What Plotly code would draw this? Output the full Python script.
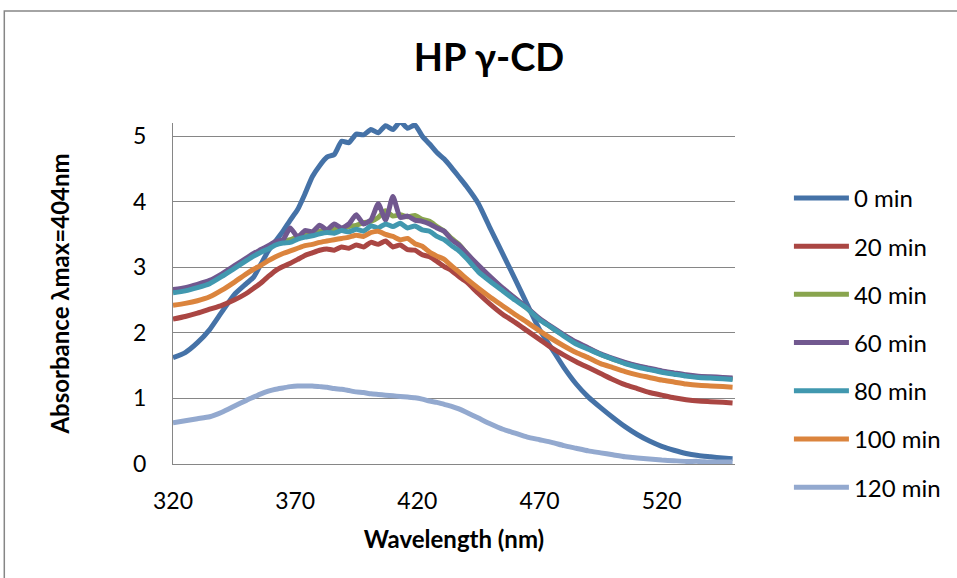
import plotly.graph_objects as go

wavelength = [320, 325, 330, 335, 340, 345, 350, 353, 356, 359, 362, 365, 368, 371, 374, 377, 380,
              383, 386, 389, 392, 395, 398, 401, 404, 407, 410, 413, 416, 419, 422, 425, 428, 431,
              434, 437, 440, 445, 450, 455, 460, 465, 470, 475, 480, 485, 490, 495, 500, 505, 510,
              515, 520, 525, 530, 535, 540, 545, 549]

min0 = [1.62, 1.70, 1.85, 2.05, 2.32, 2.58, 2.75, 2.85, 3.05, 3.25, 3.40, 3.55, 3.72, 3.88, 4.12,
        4.38, 4.55, 4.68, 4.72, 4.92, 4.90, 5.03, 5.02, 5.10, 5.05, 5.16, 5.10, 5.22, 5.12, 5.17,
        5.00, 4.88, 4.75, 4.65, 4.52, 4.38, 4.24, 3.97, 3.58, 3.20, 2.82, 2.43, 2.05, 1.76, 1.47,
        1.22, 1.02, 0.86, 0.71, 0.57, 0.45, 0.35, 0.27, 0.21, 0.16, 0.13, 0.11, 0.09, 0.08]

min20 = [2.21, 2.25, 2.30, 2.36, 2.42, 2.50, 2.60, 2.68, 2.76, 2.86, 2.95, 3.01, 3.06, 3.12, 3.18,
         3.22, 3.26, 3.28, 3.26, 3.31, 3.29, 3.34, 3.31, 3.38, 3.35, 3.40, 3.31, 3.34, 3.27, 3.26,
         3.19, 3.16, 3.09, 3.01, 2.95, 2.86, 2.78, 2.60, 2.43, 2.28, 2.16, 2.03, 1.90, 1.77, 1.66,
         1.56, 1.47, 1.38, 1.29, 1.21, 1.15, 1.09, 1.05, 1.01, 0.98, 0.96, 0.95, 0.94, 0.93]

min40 = [2.64, 2.67, 2.72, 2.78, 2.88, 3.00, 3.12, 3.19, 3.25, 3.31, 3.36, 3.40, 3.42, 3.47, 3.50,
         3.52, 3.55, 3.56, 3.58, 3.59, 3.62, 3.64, 3.68, 3.70, 3.76, 3.86, 3.78, 3.80, 3.77, 3.79,
         3.73, 3.70, 3.62, 3.55, 3.44, 3.35, 3.22, 3.01, 2.84, 2.67, 2.52, 2.37, 2.21, 2.08, 1.96,
         1.85, 1.76, 1.67, 1.60, 1.54, 1.49, 1.45, 1.41, 1.38, 1.35, 1.33, 1.32, 1.31, 1.30]

min60 = [2.66, 2.69, 2.74, 2.80, 2.90, 3.02, 3.14, 3.21, 3.27, 3.33, 3.39, 3.42, 3.60, 3.46, 3.56,
         3.54, 3.64, 3.57, 3.66, 3.60, 3.66, 3.80, 3.66, 3.72, 3.97, 3.72, 4.08, 3.76, 3.78, 3.72,
         3.70, 3.66, 3.60, 3.55, 3.42, 3.34, 3.22, 3.03, 2.85, 2.68, 2.53, 2.38, 2.22, 2.09, 1.97,
         1.86, 1.77, 1.68, 1.61, 1.55, 1.50, 1.46, 1.42, 1.39, 1.36, 1.34, 1.33, 1.32, 1.31]

min80 = [2.61, 2.64, 2.69, 2.75, 2.86, 2.98, 3.10, 3.17, 3.23, 3.28, 3.34, 3.37, 3.38, 3.43, 3.46,
         3.48, 3.51, 3.53, 3.52, 3.56, 3.54, 3.58, 3.55, 3.63, 3.60, 3.66, 3.62, 3.67, 3.60, 3.63,
         3.57, 3.55, 3.47, 3.42, 3.33, 3.25, 3.14, 2.93, 2.78, 2.64, 2.50, 2.37, 2.20, 2.08, 1.95,
         1.83, 1.75, 1.67, 1.60, 1.53, 1.48, 1.44, 1.40, 1.37, 1.34, 1.32, 1.31, 1.30, 1.29]

min100 = [2.42, 2.45, 2.49, 2.55, 2.65, 2.77, 2.90, 2.97, 3.03, 3.10, 3.16, 3.21, 3.25, 3.29, 3.33,
          3.35, 3.38, 3.40, 3.42, 3.44, 3.46, 3.49, 3.47, 3.53, 3.55, 3.50, 3.47, 3.42, 3.44, 3.36,
          3.32, 3.23, 3.17, 3.12, 3.02, 2.93, 2.83, 2.68, 2.54, 2.41, 2.28, 2.16, 2.03, 1.91, 1.80,
          1.70, 1.62, 1.53, 1.47, 1.41, 1.36, 1.32, 1.28, 1.25, 1.22, 1.20, 1.19, 1.18, 1.17]

min120 = [0.63, 0.66, 0.69, 0.72, 0.79, 0.88, 0.97, 1.02, 1.07, 1.11, 1.14, 1.16, 1.18, 1.19, 1.19,
          1.19, 1.18, 1.17, 1.15, 1.14, 1.12, 1.10, 1.09, 1.07, 1.06, 1.05, 1.04, 1.03, 1.02, 1.01,
          0.99, 0.96, 0.94, 0.91, 0.88, 0.84, 0.79, 0.70, 0.61, 0.53, 0.47, 0.41, 0.37, 0.33, 0.28,
          0.24, 0.20, 0.17, 0.14, 0.11, 0.09, 0.075, 0.06, 0.05, 0.04, 0.04, 0.03, 0.03, 0.03]

series_names = ["0 min", "20 min", "40 min", "60 min", "80 min", "100 min", "120 min"]
series_values = [min0, min20, min40, min60, min80, min100, min120]
series_colors = ["#4572A7", "#AA4643", "#89A54E", "#71588F", "#4198AF", "#DB843D", "#93A9CF"]

x_ticks = [320, 370, 420, 470, 520]
y_ticks = [0, 1, 2, 3, 4, 5]

FONT = "Lato, Open Sans, sans-serif"
GRID = "#868686"

fig = go.Figure()
for i, (name, vals, col) in enumerate(zip(series_names, series_values, series_colors)):
    fig.add_trace(go.Scatter(
        x=wavelength, y=vals, name=name, mode="lines",
        line=dict(color=col, width=5, shape="spline", smoothing=0.5),
        legendgroup=f"g{i}",
    ))

fig.update_layout(
    width=957, height=578,
    margin=dict(l=173, r=221, t=123, b=114),
    paper_bgcolor="white", plot_bgcolor="white",
    font=dict(family=FONT, size=23, color="black"),
    title=dict(text="<b>HP γ-CD</b>", x=489 / 957, xanchor="center", y=1 - 58 / 578, yanchor="middle",
               font=dict(family=FONT, size=38, color="black")),
    showlegend=True,
    legend=dict(x=1.094, xanchor="left", y=0.845, yanchor="top",
                font=dict(family=FONT, size=24, color="black"),
                tracegroupgap=14, traceorder="grouped", maxheight=600,
                itemwidth=55, bgcolor="rgba(0,0,0,0)"),
    xaxis=dict(range=[320, 550], tickmode="array", tickvals=x_ticks,
               showgrid=False, showline=True, linecolor=GRID, linewidth=1,
               ticks="", ticklabelstandoff=16, zeroline=False,
               tickfont=dict(size=23),
               title=dict(text="<b>Wavelength (nm)</b>", standoff=18,
                          font=dict(family=FONT, size=24))),
    yaxis=dict(range=[0, 5.2], tickmode="array", tickvals=y_ticks,
               showgrid=True, gridcolor=GRID, gridwidth=1,
               showline=True, linecolor=GRID, linewidth=1,
               ticks="", ticklabelstandoff=21, zeroline=False,
               tickfont=dict(size=23),
               title=dict(text="<b>Absorbance λmax=404nm</b>", standoff=56,
                          font=dict(family=FONT, size=24))),
)

fig.add_shape(type="rect", xref="paper", yref="paper",
              x0=(4 - 173) / 563, x1=1.6, y0=-0.6, y1=(464 - 11) / 341,
              line=dict(color=GRID, width=1.5), fillcolor="rgba(0,0,0,0)", layer="above")

fig.write_html("out.html", config={"displayModeBar": False},
               post_script="document.body.style.margin='0';")
